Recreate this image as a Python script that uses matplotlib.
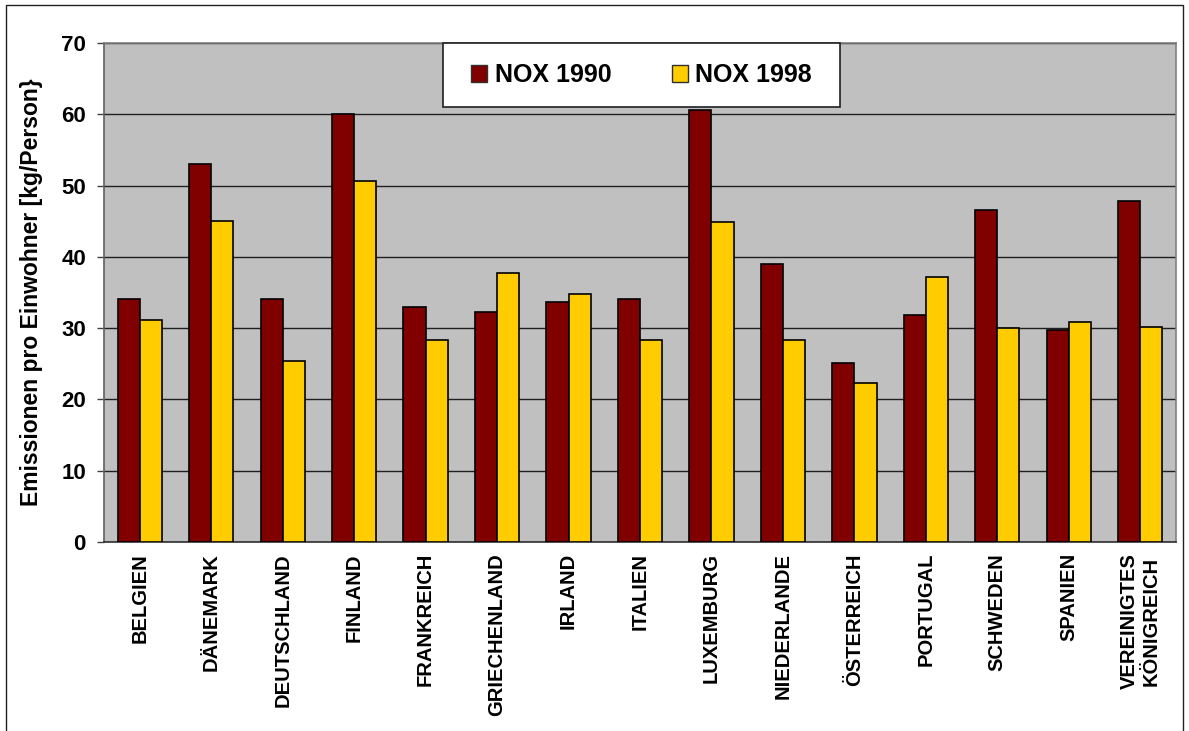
import matplotlib
matplotlib.use("Agg")
import matplotlib.pyplot as plt
from matplotlib.patches import Rectangle, Patch
import numpy as np

plt.rcParams["font.family"] = ["Liberation Sans", "DejaVu Sans"]
plt.rcParams["font.weight"] = "bold"

countries = ["BELGIEN", "DÄNEMARK", "DEUTSCHLAND", "FINLAND", "FRANKREICH",
             "GRIECHENLAND", "IRLAND", "ITALIEN", "LUXEMBURG", "NIEDERLANDE",
             "ÖSTERREICH", "PORTUGAL", "SCHWEDEN", "SPANIEN",
             "VEREINIGTES\nKÖNIGREICH"]
nox_1990 = [34.1, 53.0, 34.1, 60.1, 33.0, 32.2, 33.7, 34.1, 60.6, 39.0,
            25.1, 31.9, 46.6, 29.8, 47.9]
nox_1998 = [31.2, 45.1, 25.4, 50.7, 28.3, 37.8, 34.8, 28.3, 44.9, 28.4,
            22.3, 37.2, 30.0, 30.9, 30.2]
series_names = ["NOX 1990", "NOX 1998"]
y_ticks = [0, 10, 20, 30, 40, 50, 60, 70]

color_1990 = "#800000"
color_1998 = "#FFCC00"

W, H = 1189, 731
fig = plt.figure(figsize=(W / 100, H / 100), dpi=100)
fig.patch.set_facecolor("white")

# plot area in pixel coordinates
left_px, right_px, top_px, bottom_px = 104, 1176, 43, 542
ax = fig.add_axes([left_px / W, 1 - bottom_px / H,
                   (right_px - left_px) / W, (bottom_px - top_px) / H])
ax.set_facecolor("#C0C0C0")

x = np.arange(len(countries))
bw = 0.31
ax.bar(x - bw / 2, nox_1990, width=bw, color=color_1990, edgecolor="black",
       linewidth=1.2, zorder=3)
ax.bar(x + bw / 2, nox_1998, width=bw, color=color_1998, edgecolor="black",
       linewidth=1.2, zorder=3)

ax.set_xlim(-0.5, len(countries) - 0.5)
ax.set_ylim(0, 70)
ax.set_yticks(y_ticks)
ax.set_yticklabels([str(v) for v in y_ticks], fontsize=16, fontweight="bold")
ax.yaxis.grid(True, color="#202020", linewidth=1.0, zorder=1)
ax.set_axisbelow(True)

ax.set_xticks(x)
ax.set_xticklabels(countries, rotation=90, fontsize=14.5, fontweight="bold",
                   va="top", ha="center", multialignment="center")
ax.tick_params(axis="x", length=0, pad=8)
ax.tick_params(axis="y", direction="out", length=5, width=1, color="#404040", pad=8)

for side in ["top", "right"]:
    ax.spines[side].set_color("#808080")
    ax.spines[side].set_linewidth(1.2)
ax.spines["left"].set_color("#606060")
ax.spines["bottom"].set_color("#303030")
ax.spines["left"].set_linewidth(1.2)
ax.spines["bottom"].set_linewidth(1.2)

ax.set_ylabel("Emissionen pro Einwohner [kg/Person}", fontsize=16.5,
              fontweight="bold")
ax.yaxis.set_label_coords(-0.057, 0.5)

# legend box
lx0, lx1, ly0, ly1 = 443, 840, 43, 107
fig.patches.append(Rectangle((lx0 / W, 1 - ly1 / H), (lx1 - lx0) / W,
                             (ly1 - ly0) / H, transform=fig.transFigure,
                             facecolor="white", edgecolor="#202020",
                             linewidth=1.2, zorder=5))
handles = [Patch(facecolor=color_1990, edgecolor="#303030", linewidth=1.0),
           Patch(facecolor=color_1998, edgecolor="#303030", linewidth=1.0)]
leg = fig.legend(handles, series_names, loc="center",
                 bbox_to_anchor=((lx0 + lx1) / 2 / W, 1 - (ly0 + ly1) / 2 / H),
                 ncol=2, frameon=False, prop={"size": 18, "weight": "bold"},
                 handlelength=0.65, handleheight=0.65, handletextpad=0.3,
                 columnspacing=2.4, borderaxespad=0)
leg.set_zorder(6)

# outer chart frame
fig.patches.append(Rectangle((6 / W, -0.05), (1183 - 6) / W, 1.05 - 5 / H,
                             transform=fig.transFigure, facecolor="none",
                             edgecolor="#202020", linewidth=1.0, zorder=0))

fig.savefig("out.png", dpi=100)
